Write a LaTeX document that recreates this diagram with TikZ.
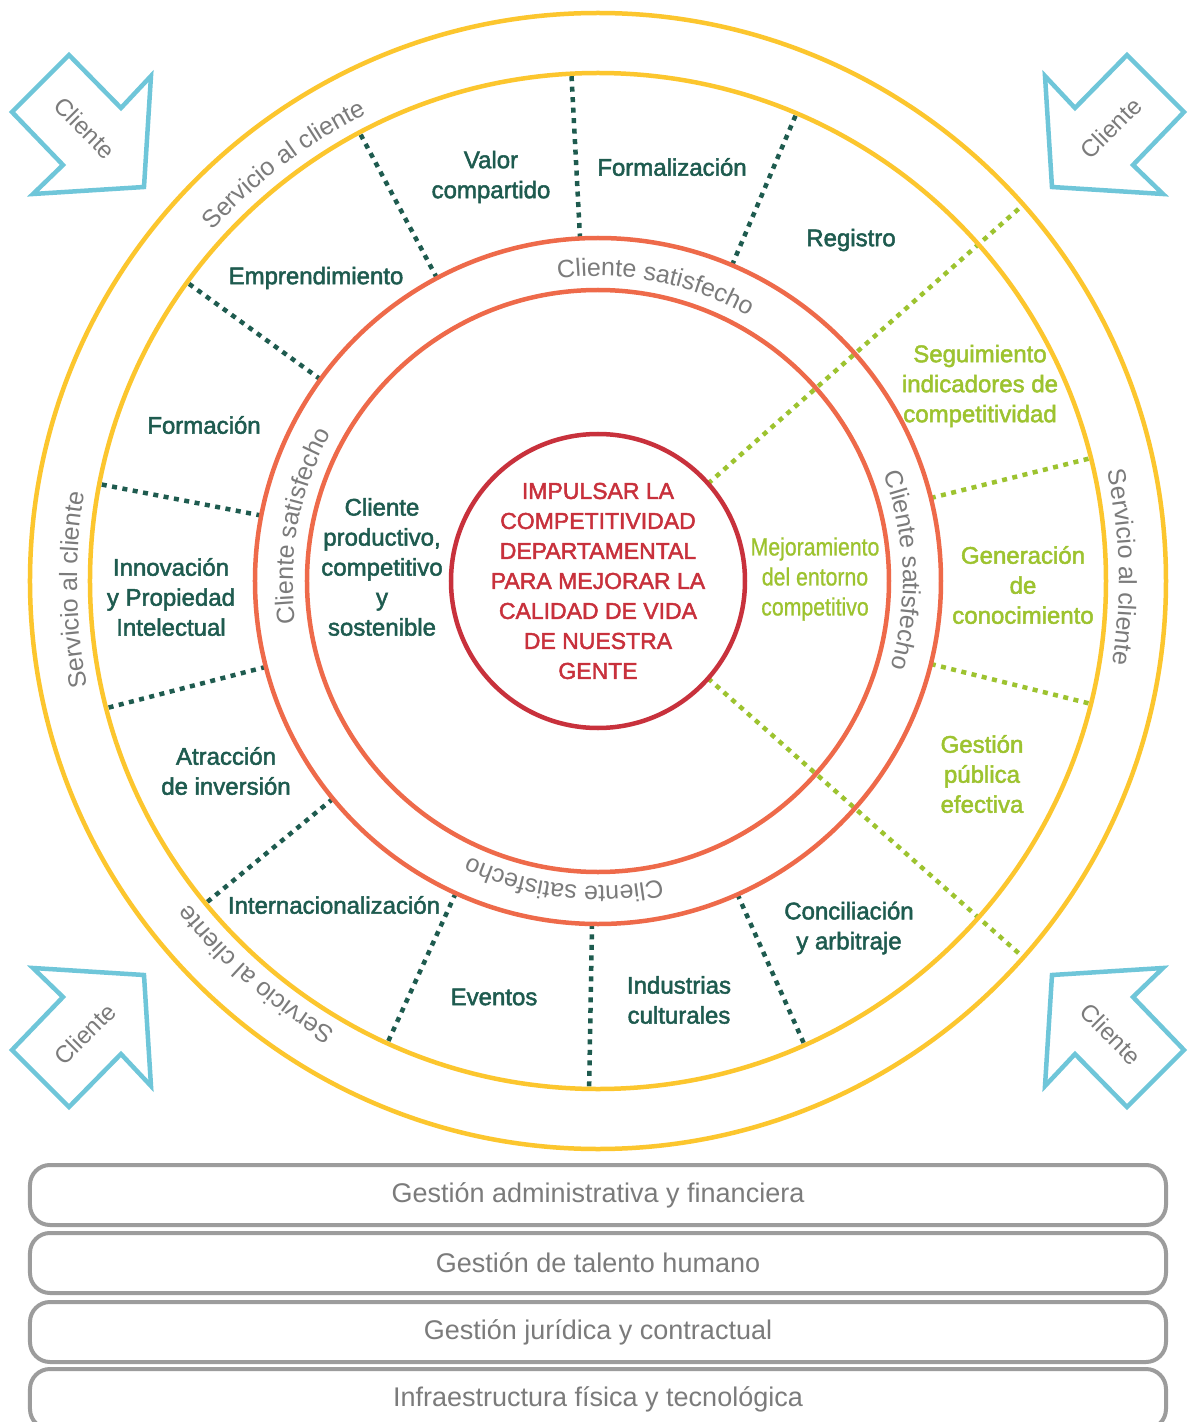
\documentclass[tikz,border=0pt]{standalone}
\usepackage{fontspec}
\setmainfont{Liberation Sans}
\newfontfamily\medfont[FakeBold=2]{Liberation Sans}
\newfontfamily\condfont[FakeStretch=0.85,FakeBold=0.8]{Liberation Sans}
\usetikzlibrary{decorations.text}

\definecolor{ringyellow}{HTML}{FCC62E}
\definecolor{ringred}{HTML}{EE6A4A}
\definecolor{corered}{HTML}{C8313C}
\definecolor{sectgreen}{HTML}{1E5B4F}
\definecolor{leafgreen}{HTML}{9DC32F}
\definecolor{clientblue}{HTML}{6FC6D9}
\definecolor{softgray}{HTML}{7B7B7B}
\definecolor{bargray}{HTML}{9C9C9C}

\tikzset{
  ring/.style={line width=4.5pt},
  sectline/.style={sectgreen,line width=4.5pt,dash pattern=on 5pt off 5.5pt},
  leafline/.style={leafgreen,line width=4.5pt,dash pattern=on 5pt off 5.5pt},
  sect/.style={text=sectgreen,align=center,font=\medfont\fontsize{24}{30}\selectfont},
  leaf/.style={sect,text=leafgreen},
  core/.style={text=corered,align=center,font=\medfont\fontsize{23}{30}\selectfont},
  clientarrow/.style={clientblue,line width=4.5pt,line join=miter,fill=white},
  clienttext/.style={text=softgray,font=\fontsize{24}{24}\selectfont},
  bar/.style={bargray,line width=4pt,rounded corners=20pt},
  bartext/.style={text=softgray,font=\fontsize{27}{27}\selectfont},
  ringlabel/.style={decorate,decoration={text along path,text align=center,
    text color=softgray,text={|\fontsize{25}{25}\selectfont|#1}}}
}

\begin{document}
\begin{tikzpicture}[x=1pt,y=1pt]
  \useasboundingbox (-598,-841) rectangle (590,581);
  \fill[white] (-598,-841) rectangle (590,581);

  % sector borders
  \foreach \a in {93,67,118,144,169,194.5,219.4,245.5,269,294}
    \draw[sectline] (\a:343) -- (\a:508);
  \draw[leafline] (41.5:147) -- (41.5:568);
  \draw[leafline] (-41.5:147) -- (-41.5:568);
  \draw[leafline] (14:343) -- (14:508);
  \draw[leafline] (-14:343) -- (-14:508);

  % rings
  \draw[ring,ringyellow] (0,0) circle [radius=568];
  \draw[ring,ringyellow] (0,0) circle [radius=508];
  \draw[ring,ringred] (0,0) circle [radius=343];
  \draw[ring,ringred] (0,0) circle [radius=291];
  \draw[ring,corered,fill=white] (0,0) circle [radius=147];

  \foreach \a in {127,181,1.5,229}
    \path[ringlabel=Servicio al cliente] (\a+25:521) arc[start angle=\a+25,end angle=\a-25,radius=521];
  \foreach \a in {79,169.5,2,263.5}
    \path[ringlabel=Cliente satisfecho] (\a+30:305) arc[start angle=\a+30,end angle=\a-30,radius=305];

  % clients
  \foreach \sx/\sy/\k in {1/1/nw,-1/1/ne,1/-1/sw,-1/-1/se}{
    \begin{scope}[xscale=\sx,yscale=\sy]
      \draw[clientarrow] (-529,526) -- (-477,473) -- (-447,505) -- (-454,394)
        -- (-565,387) -- (-535,416) -- (-586,469) -- cycle;
      \node[clienttext,rotate=-45*\sx*\sy] (client-\k) at (-513,453) {Cliente};
    \end{scope}
  }

  \node[core] (core) at (0,0) {IMPULSAR LA\\COMPETITIVIDAD\\DEPARTAMENTAL\\PARA MEJORAR LA\\CALIDAD DE VIDA\\DE NUESTRA\\GENTE};

  \node[sect] (valor) at (-107,404) {Valor\\compartido};
  \node[sect] (formal) at (74,414) {Formalización};
  \node[sect] (registro) at (253,341) {Registro};
  \node[sect] (empren) at (-282,303) {Emprendimiento};
  \node[sect] (formacion) at (-394,156) {Formación};
  \node[sect] (innova) at (-427,-16) {Innovación\\y Propiedad\\Intelectual};
  \node[sect] (atraccion) at (-372,-190) {Atracción\\de inversión};
  \node[sect] (inter) at (-264,-324) {Internacionalización};
  \node[sect] (eventos) at (-104,-416) {Eventos};
  \node[sect] (industrias) at (81,-419) {Industrias\\culturales};
  \node[sect] (concilia) at (251,-347) {Conciliación\\y arbitraje};
  \node[sect] (cliente) at (-216,14) {Cliente\\productivo,\\competitivo\\y\\sostenible};

  \node[leaf] (seguim) at (382,195) {Seguimiento\\indicadores de\\competitividad};
  \node[leaf] (genera) at (425,-4) {Generación\\de\\conocimiento};
  \node[leaf] (gestpub) at (384,-193) {Gestión\\pública\\efectiva};
  \node[leaf,font=\condfont\fontsize{25}{30}\selectfont] (mejora) at (217,2) {Mejoramiento\\del entorno\\competitivo};

  % support processes
  \foreach \y/\t [count=\i] in {-614/Gestión administrativa y financiera,-682/Gestión de talento humano,
      -751/Gestión jurídica y contractual,-818/Infraestructura física y tecnológica}{
    \draw[bar] (-568,\y-30) rectangle (568,\y+30);
    \node[bartext] (support\i) at (0,\y) {\t};
  }
\end{tikzpicture}
\end{document}
